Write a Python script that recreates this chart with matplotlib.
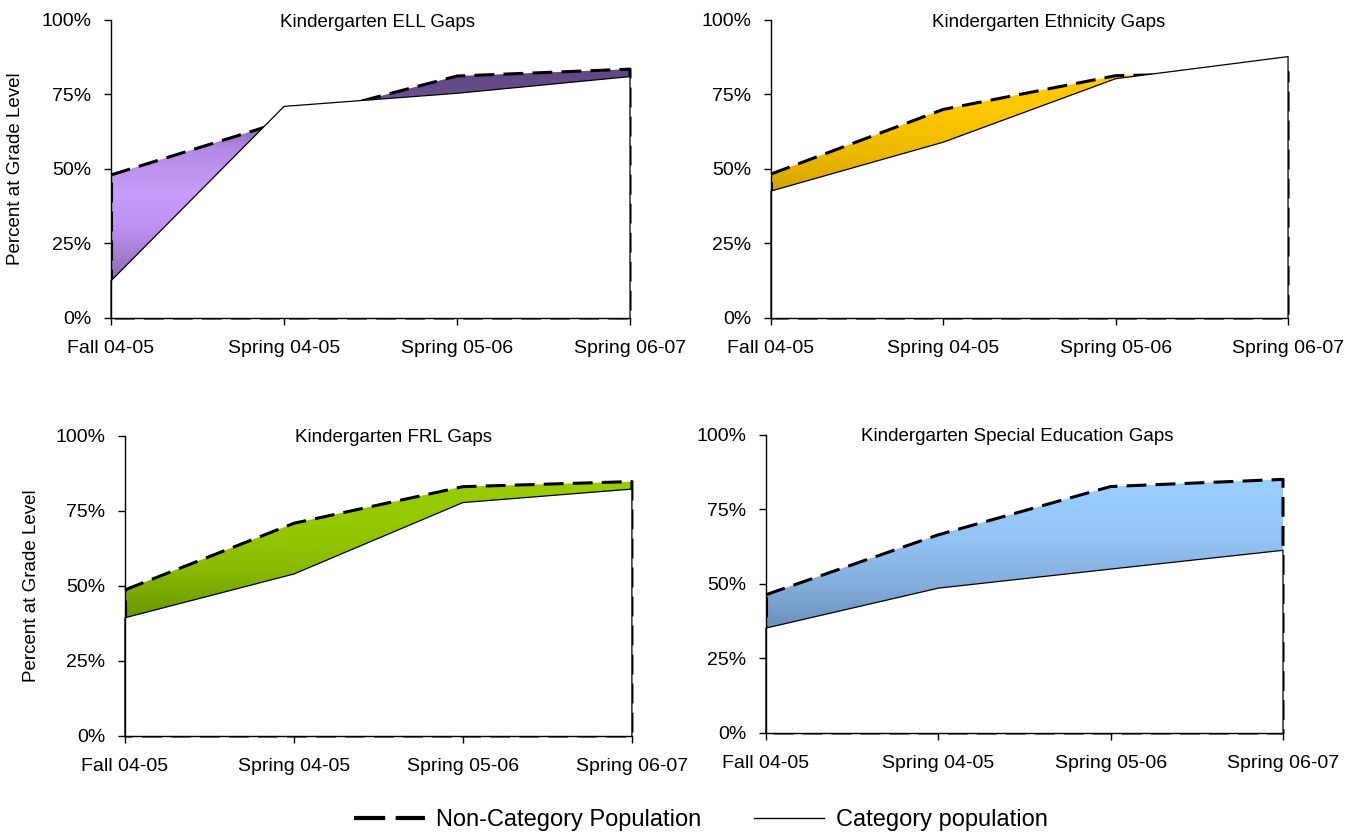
import matplotlib
matplotlib.use("Agg")
import matplotlib.pyplot as plt
import numpy as np
from matplotlib.colors import LinearSegmentedColormap
from matplotlib.lines import Line2D

plt.rcParams['font.family'] = ['Liberation Sans', 'DejaVu Sans']

# x categories and y ticks
periods = ["Fall 04-05", "Spring 04-05", "Spring 05-06", "Spring 06-07"]
y_ticks = [0, 25, 50, 75, 100]
y_tick_labels = ["0%", "25%", "50%", "75%", "100%"]

titles = ["Kindergarten ELL Gaps", "Kindergarten Ethnicity Gaps",
          "Kindergarten FRL Gaps", "Kindergarten Special Education Gaps"]

# percent at grade level
ell_noncat = [48, 66, 81.2, 83.5]
ell_cat = [12.5, 71, 75.4, 81]
eth_noncat = [48.3, 70, 81.3, 82.5]
eth_cat = [42.6, 59, 80.3, 87.7]
frl_noncat = [48.7, 70.9, 83.1, 84.8]
frl_cat = [39.4, 54, 77.8, 82.3]
sped_noncat = [46.4, 66.5, 82.7, 85.1]
sped_cat = [35.2, 48.6, 55, 61.3]

noncat_series = [ell_noncat, eth_noncat, frl_noncat, sped_noncat]
cat_series = [ell_cat, eth_cat, frl_cat, sped_cat]

# gradient stops (fraction of 0-100% height, colour)
gradients = [
    [(0, '#5E4585'), (0.12, '#8A68B0'), (0.30, '#BE90F0'), (0.42, '#C99BFA'),
     (0.56, '#B48AE6'), (0.68, '#7A5CA0'), (0.78, '#654A88'), (1.0, '#5A4080')],
    [(0, '#B08000'), (0.42, '#D4A200'), (0.55, '#EDB900'), (0.70, '#FCC800'), (1, '#FFCC00')],
    [(0, '#4E7000'), (0.40, '#6C9800'), (0.55, '#89BA00'), (0.70, '#96C800'), (1, '#9ED000')],
    [(0, '#4E6E95'), (0.35, '#6A90BB'), (0.50, '#84AEDC'), (0.65, '#93C4F3'), (0.8, '#99CCFF'), (1, '#99CCFF')],
]

# axes rectangles in figure fraction, title x / y position
rects = [[0.0816, 0.6178, 0.3813, 0.3582],
         [0.5665, 0.6178, 0.3799, 0.3582],
         [0.0918, 0.1154, 0.3725, 0.3606],
         [0.5628, 0.1190, 0.3799, 0.3582]]
title_x = [0.5125, 0.536, 0.529, 0.4855]
title_y = [0.99, 0.99, 0.995, 0.995]

fig = plt.figure(figsize=(13.61, 8.32), dpi=100)
x = np.arange(len(periods))
dash = (0, (6.5, 3))

for i in range(4):
    ax = fig.add_axes(rects[i])
    nc = noncat_series[i]
    c = cat_series[i]

    # gradient area for the non-category population
    cmap = LinearSegmentedColormap.from_list("g%d" % i, gradients[i])
    grad = np.linspace(0, 1, 256).reshape(-1, 1)
    im = ax.imshow(grad, cmap=cmap, extent=[x[0], x[-1], 0, 100], origin='lower',
                   aspect='auto', zorder=1, interpolation='bilinear')
    poly = ax.fill_between(x, 0, nc, facecolor='none', edgecolor='none')
    im.set_clip_path(poly.get_paths()[0], transform=ax.transData)
    poly.remove()

    # dashed outline of the non-category area
    ax.plot([x[0], x[0]], [0, nc[0]], color='black', lw=2.2, linestyle=dash, zorder=2)
    px = list(x) + [x[-1], x[0]]
    py = list(nc) + [0, 0]
    ax.plot(px, py, color='black', lw=2.2, linestyle=dash, zorder=2, clip_on=False)

    # white category area with thin outline
    ax.fill_between(x, 0, c, facecolor='white', edgecolor='none', zorder=3)
    cx = [x[0]] + list(x) + [x[-1]]
    cy = [0] + list(c) + [0]
    ax.plot(cx, cy, color='black', lw=0.9, zorder=4, clip_on=False)

    ax.set_xlim(x[0], x[-1])
    ax.set_ylim(0, 100)
    ax.set_xticks(x)
    ax.set_xticklabels(periods, fontsize=14)
    ax.set_yticks(y_ticks)
    ax.set_yticklabels(y_tick_labels, fontsize=14)
    ax.tick_params(axis='x', length=5, pad=11, width=1)
    ax.tick_params(axis='y', length=5, pad=9, width=1)
    for s in ['top', 'right']:
        ax.spines[s].set_visible(False)
    for s in ['left', 'bottom']:
        ax.spines[s].set_linewidth(1)
        ax.spines[s].set_zorder(5)

    ax.text(title_x[i], title_y[i], titles[i], transform=ax.transAxes, ha='center',
            va='center', fontsize=13.5, zorder=6)

    if i in (0, 2):
        ax.set_ylabel("Percent at Grade Level", fontsize=13.5)
        ax.yaxis.set_label_coords(-0.167, 0.5)

handles = [Line2D([], [], color='black', lw=3, linestyle=(0, (7.5, 2.5))),
           Line2D([], [], color='black', lw=1)]
fig.legend(handles, ["Non-Category Population", "Category population"],
           loc='center', bbox_to_anchor=(0.515, 0.0145), ncol=2, frameon=False,
           fontsize=17, handlelength=3.0, handletextpad=0.5, columnspacing=2.2)

fig.savefig("out.png", dpi=100)
